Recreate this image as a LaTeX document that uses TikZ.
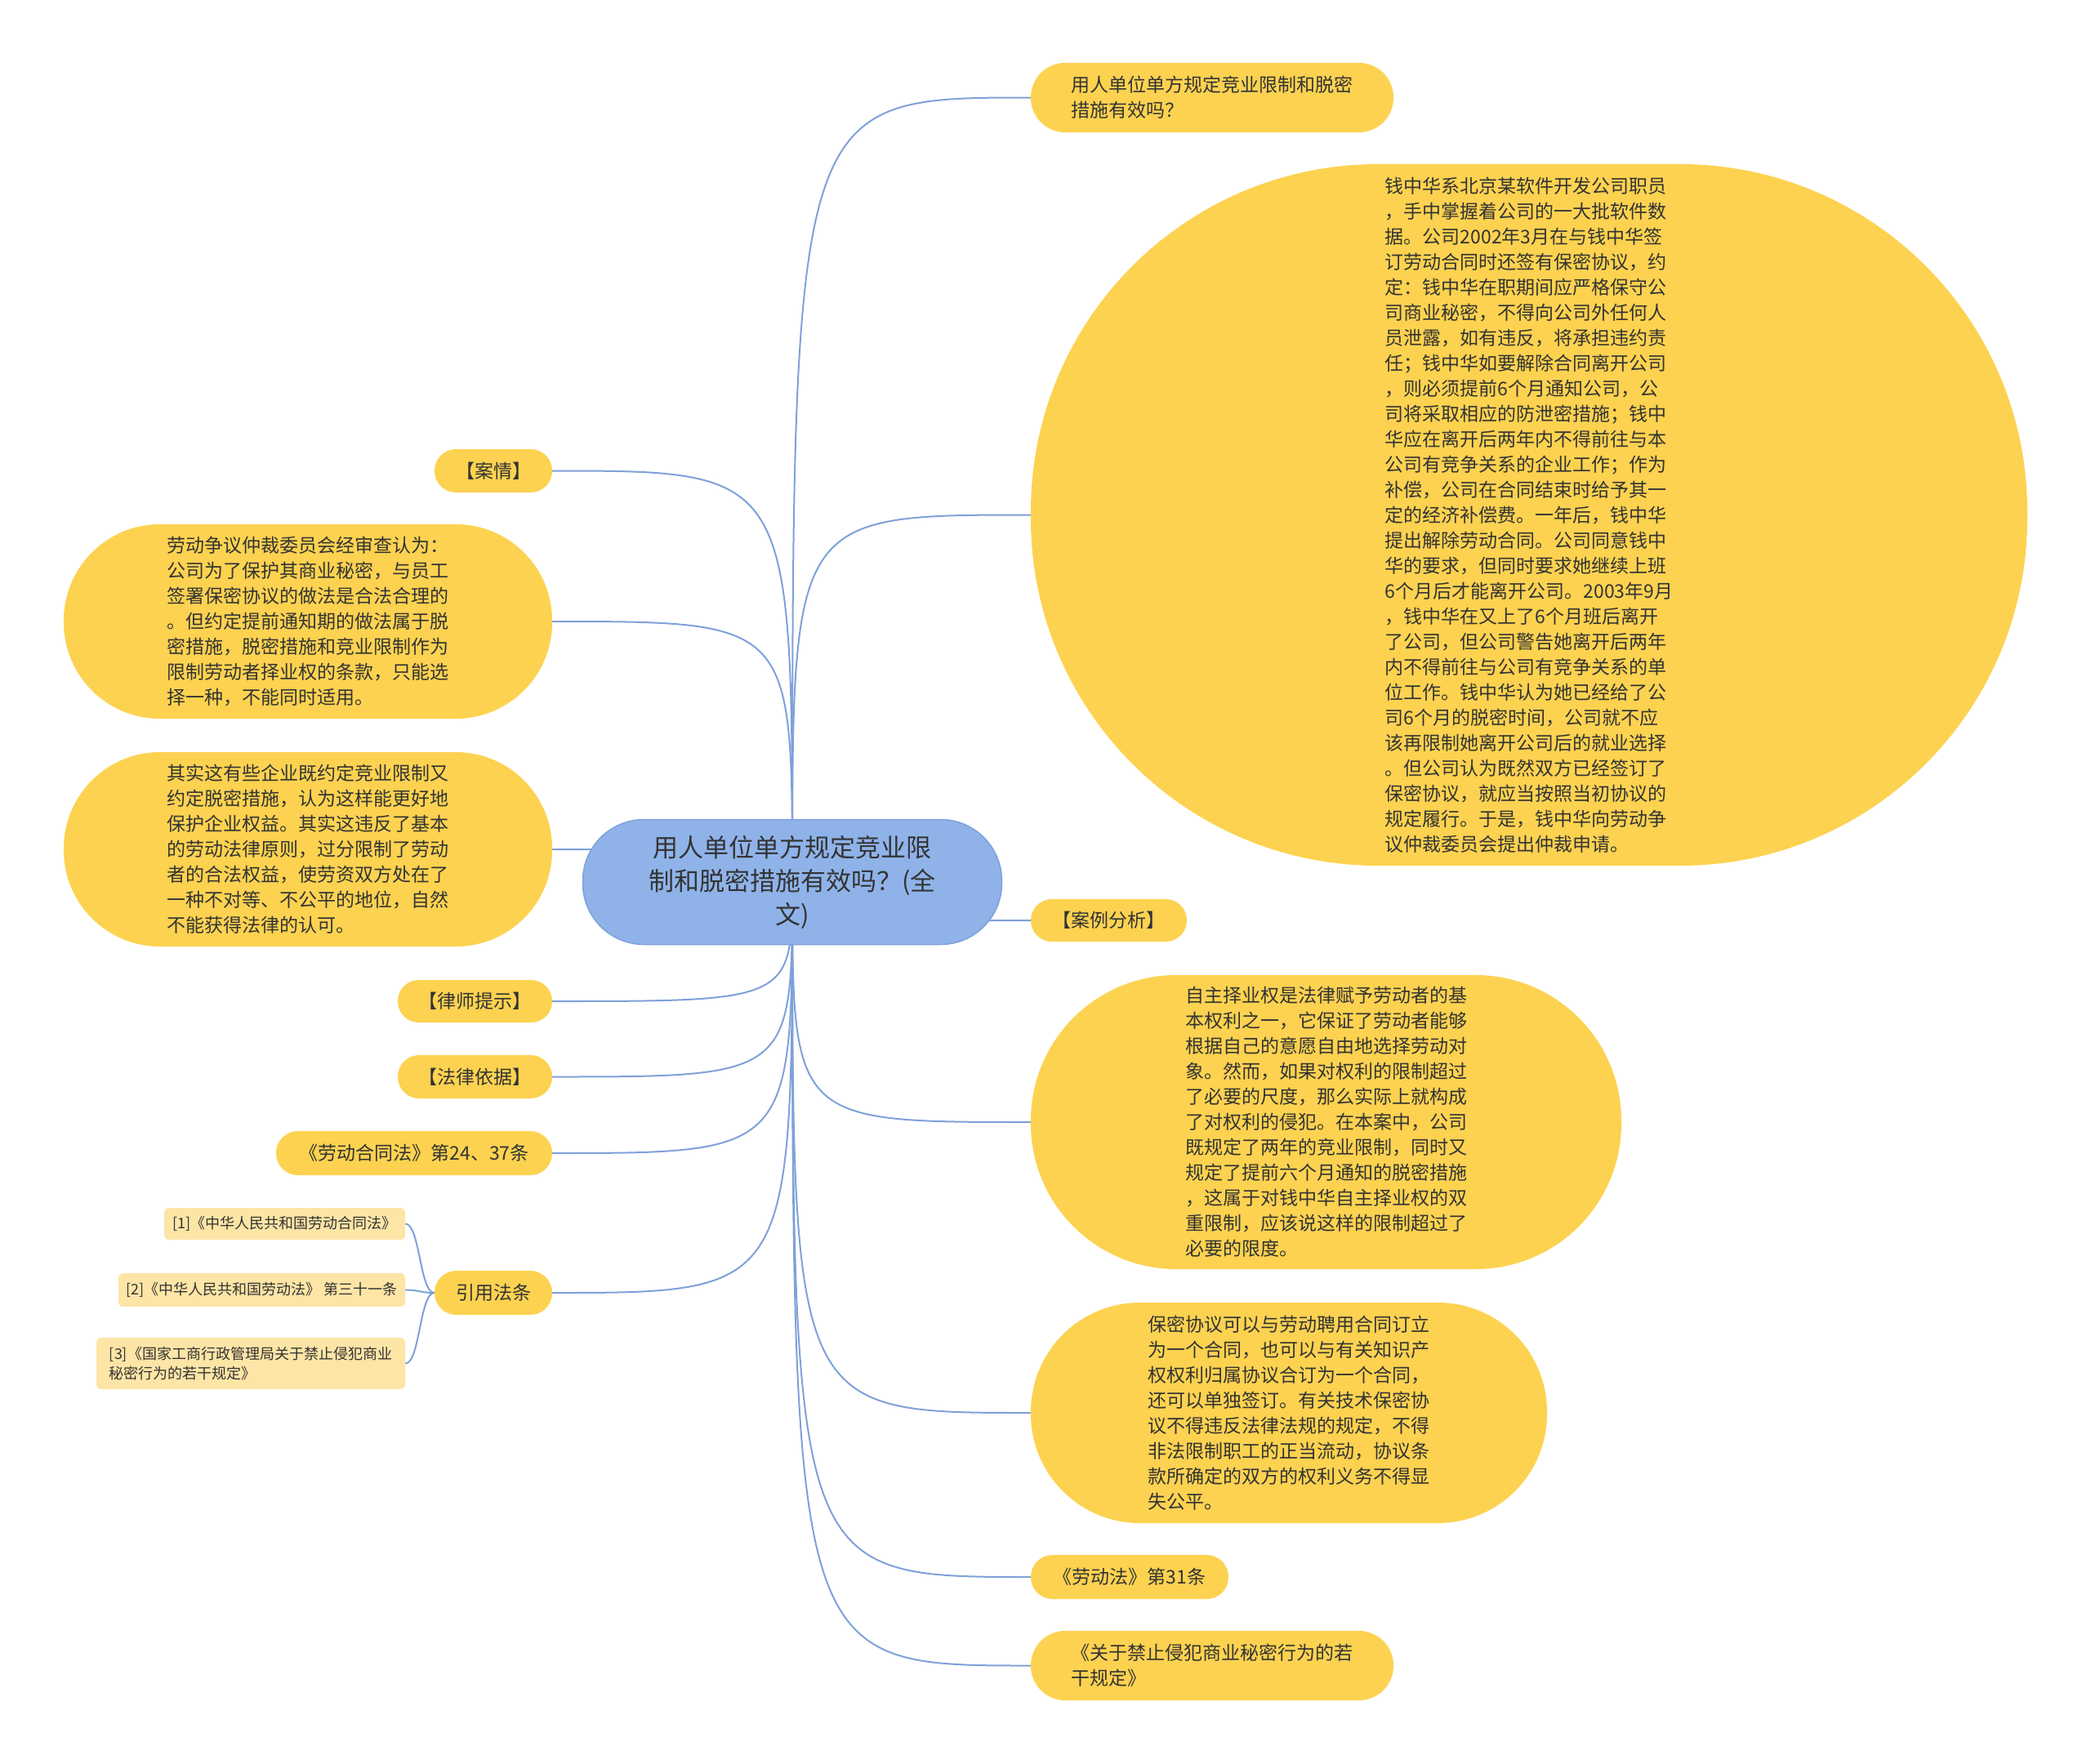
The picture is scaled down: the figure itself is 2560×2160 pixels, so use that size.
\documentclass[tikz,border=0pt]{standalone}
\usepackage{fontspec}
\setmainfont{Noto Sans CJK SC}
\usetikzlibrary{backgrounds}
\definecolor{gold}{HTML}{FCD250}
\definecolor{cream}{HTML}{FDE5A6}
\definecolor{sky}{HTML}{8FB3E9}
\definecolor{wire}{HTML}{7EA1D9}
\definecolor{ink}{HTML}{333333}

\begin{document}
\begin{tikzpicture}[x=1pt,y=-1pt,
 pill/.style n args={2}{fill=gold,inner sep=0pt,minimum width=#1pt,minimum height=#2pt,rounded corners=0.495*#2pt,text=ink,font=\fontsize{23pt}{31pt}\selectfont,align=left},
 cited/.style n args={2}{fill=cream,inner sep=0pt,minimum width=#1pt,minimum height=#2pt,rounded corners=6pt,text=ink,font=\fontsize{18pt}{24pt}\selectfont,align=left},
 link/.style={draw=wire,line width=2pt}]
 \useasboundingbox (0,0) rectangle (2560,2160);
 % centre topic
 \node[fill=sky,draw=wire,line width=1.5pt,inner sep=0pt,minimum width=513pt,minimum height=153pt,rounded corners=75pt,text=ink,font=\fontsize{31pt}{41pt}\selectfont,align=center] (root) at (970,1080) {用人单位单方规定竞业限\\制和脱密措施有效吗？(全\\文)};
 % right branch
 \node[pill={444}{85}] (ask) at (1484,119.5) {用人单位单方规定竞业限制和脱密\\措施有效吗？};
 \node[pill={1220}{859}] (story) at (1872,630.5) {钱中华系北京某软件开发公司职员\\，手中掌握着公司的一大批软件数\\据。公司2002年3月在与钱中华签\\订劳动合同时还签有保密协议，约\\定：钱中华在职期间应严格保守公\\司商业秘密，不得向公司外任何人\\员泄露，如有违反，将承担违约责\\任；钱中华如要解除合同离开公司\\，则必须提前6个月通知公司，公\\司将采取相应的防泄密措施；钱中\\华应在离开后两年内不得前往与本\\公司有竞争关系的企业工作；作为\\补偿，公司在合同结束时给予其一\\定的经济补偿费。一年后，钱中华\\提出解除劳动合同。公司同意钱中\\华的要求，但同时要求她继续上班\\6个月后才能离开公司。2003年9月\\，钱中华在又上了6个月班后离开\\了公司，但公司警告她离开后两年\\内不得前往与公司有竞争关系的单\\位工作。钱中华认为她已经给了公\\司6个月的脱密时间，公司就不应\\该再限制她离开公司后的就业选择\\。但公司认为既然双方已经签订了\\保密协议，就应当按照当初协议的\\规定履行。于是，钱中华向劳动争\\议仲裁委员会提出仲裁申请。};
 \node[pill={191}{52}] (anahead) at (1357.5,1127) {【案例分析】};
 \node[pill={723}{360}] (analysis) at (1623.5,1374) {自主择业权是法律赋予劳动者的基\\本权利之一，它保证了劳动者能够\\根据自己的意愿自由地选择劳动对\\象。然而，如果对权利的限制超过\\了必要的尺度，那么实际上就构成\\了对权利的侵犯。在本案中，公司\\既规定了两年的竞业限制，同时又\\规定了提前六个月通知的脱密措施\\，这属于对钱中华自主择业权的双\\重限制，应该说这样的限制超过了\\必要的限度。};
 \node[pill={632}{270}] (secrecy) at (1578,1730) {保密协议可以与劳动聘用合同订立\\为一个合同，也可以与有关知识产\\权权利归属协议合订为一个合同，\\还可以单独签订。有关技术保密协\\议不得违反法律法规的规定，不得\\非法限制职工的正当流动，协议条\\款所确定的双方的权利义务不得显\\失公平。};
 \node[pill={242}{54}] (labour) at (1383,1931) {《劳动法》第31条};
 \node[pill={444}{85}] (rules) at (1484,2039.5) {《关于禁止侵犯商业秘密行为的若\\干规定》};
 % left branch
 \node[pill={144}{53}] (caseh) at (604,576.5) {【案情】};
 \node[pill={598}{238}] (ruling) at (377,761) {劳动争议仲裁委员会经审查认为：\\公司为了保护其商业秘密，与员工\\签署保密协议的做法是合法合理的\\。但约定提前通知期的做法属于脱\\密措施，脱密措施和竞业限制作为\\限制劳动者择业权的条款，只能选\\择一种，不能同时适用。};
 \node[pill={598}{238}] (actually) at (377,1040) {其实这有些企业既约定竞业限制又\\约定脱密措施，认为这样能更好地\\保护企业权益。其实这违反了基本\\的劳动法律原则，过分限制了劳动\\者的合法权益，使劳资双方处在了\\一种不对等、不公平的地位，自然\\不能获得法律的认可。};
 \node[pill={189}{52}] (tips) at (581.5,1226) {【律师提示】};
 \node[pill={189}{53}] (basis) at (581.5,1318.5) {【法律依据】};
 \node[pill={338}{54}] (contract) at (507,1412) {《劳动合同法》第24、37条};
 \node[pill={144}{54}] (cite) at (604,1583) {引用法条};
 \node[cited={295}{39}] (citeA) at (348.5,1498.5) {[1]《中华人民共和国劳动合同法》};
 \node[cited={351}{41}] (citeB) at (320.5,1579.5) {[2]《中华人民共和国劳动法》 第三十一条};
 \node[cited={378}{63}] (citeC) at (307,1669.5) {[3]《国家工商行政管理局关于禁止侵犯商业\\秘密行为的若干规定》};
 % connectors
 \begin{scope}[on background layer]
  \foreach \n in {ask,story,anahead,analysis,secrecy,labour,rules}
   \draw[link] (root.center) .. controls (root.center |- \n.west) .. (\n.west);
  \foreach \n in {caseh,ruling,actually,tips,basis,contract,cite}
   \draw[link] (root.center) .. controls (root.center |- \n.east) .. (\n.east);
  \foreach \n in {citeA,citeB,citeC}
   \draw[link] (cite.west) .. controls +(-18,0) and +(18,0) .. (\n.east);
 \end{scope}
\end{tikzpicture}
\end{document}
